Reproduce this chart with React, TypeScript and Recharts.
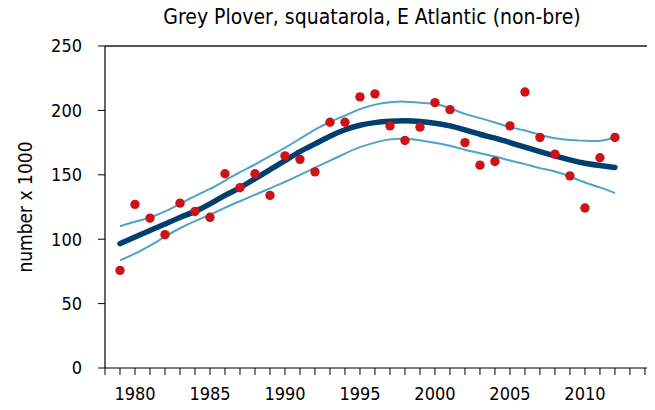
import React from 'react';
import { ComposedChart, Line, XAxis, YAxis, ReferenceLine, Label } from 'recharts';

const years = [1979, 1980, 1981, 1982, 1983, 1984, 1985, 1986, 1987, 1988, 1989, 1990, 1991, 1992, 1993, 1994, 1995, 1996, 1997, 1998, 1999, 2000, 2001, 2002, 2003, 2004, 2005, 2006, 2007, 2008, 2009, 2010, 2011, 2012];

const counts = [75.8, 127, 116.4, 103.5, 128, 121.5, 117, 150.8, 140, 150.8, 134, 164.7, 162, 152.3, 190.8, 190.8, 210.5, 212.8, 188, 176.6, 187, 206, 200.6, 175, 157.5, 160.3, 188, 214.3, 179, 166, 149.2, 124.2, 163.2, 179];

const trend = [96.5, 101.7, 106.8, 111.8, 116.9, 121.6, 127.5, 134, 140, 147, 154, 161, 168, 174, 180, 185, 188.5, 190.5, 191.5, 191.9, 191.3, 190, 188, 184.9, 181.5, 178.4, 175, 171.5, 168, 164.7, 161.6, 159, 157.2, 155.7];

const upper = [110, 113.5, 116.9, 121.6, 127.5, 133.5, 139, 145.5, 152, 158, 164.5, 171, 178, 185, 191, 196, 201, 204.5, 206.3, 206.8, 206, 205, 201.7, 197.3, 194, 190.6, 187, 184.4, 181, 178.4, 177, 176.4, 176.4, 179];

const lower = [83.6, 88.8, 95, 102, 108.5, 114, 119, 124.5, 129.5, 134.5, 139.5, 144.5, 150, 155.5, 161, 166.5, 171.5, 175, 177.5, 178, 176.8, 174.8, 172.5, 169.4, 166.8, 164.2, 161.1, 158.3, 155.2, 152.6, 148.7, 144, 140.2, 135.8];

const xTicks = Array.from({ length: 37 }, (_, i) => 1978 + i);
const yTicks = [0, 50, 100, 150, 200, 250];

const titleText = 'Grey Plover, squatarola, E Atlantic (non-bre)';
const yLabelText = 'number x 1000';

const data = years.map((y, i) => ({
  year: y,
  count: counts[i],
  trend: trend[i],
  upper: upper[i],
  lower: lower[i],
}));

const FONT = '"DejaVu Sans Condensed", "DejaVu Sans", sans-serif';

export default function App() {
  return (
    <div style={{ position: 'relative', width: 655, height: 410, margin: -8, fontFamily: FONT }}>
      <div
        style={{
          position: 'absolute',
          left: 89,
          width: 566,
          top: 7,
          fontSize: 21,
          lineHeight: '21px',
          textAlign: 'center',
          whiteSpace: 'nowrap',
          color: '#000',
        }}
      >
        {titleText}
      </div>
      <ComposedChart
        width={655}
        height={410}
        data={data}
        margin={{ top: 46, right: 0, bottom: 0, left: 0 }}
        style={{ fontFamily: FONT }}
      >
        <XAxis
          dataKey="year"
          type="number"
          domain={[1978, 2014.67]}
          allowDataOverflow
          ticks={xTicks}
          interval={0}
          tickFormatter={(v: number) => (v % 5 === 0 ? String(v) : '')}
          tick={{ fontSize: 18, fill: '#000', fontFamily: FONT }}
          tickLine={{ stroke: '#000', strokeWidth: 1 }}
          axisLine={{ stroke: '#000', strokeWidth: 1.2 }}
          tickSize={7}
          tickMargin={12}
          height={42}
        />
        <YAxis
          type="number"
          domain={[0, 250]}
          ticks={yTicks}
          interval={0}
          tick={{ fontSize: 18, fill: '#000', fontFamily: FONT }}
          tickLine={{ stroke: '#000', strokeWidth: 1 }}
          axisLine={{ stroke: '#000', strokeWidth: 1.2 }}
          tickSize={7}
          tickMargin={16}
          width={105}
        >
          <Label
            content={() => (
              <text
                x={25}
                y={207}
                transform="rotate(-90 25 207)"
                textAnchor="middle"
                dominantBaseline="central"
                fontSize={19}
                fontFamily={FONT}
                fill="#000"
              >
                {yLabelText}
              </text>
            )}
          />
        </YAxis>
        <ReferenceLine y={250} stroke="#555" strokeWidth={2} ifOverflow="visible" />
        <Line
          dataKey="upper"
          type="natural"
          stroke="#4da3c9"
          strokeWidth={2}
          dot={false}
          activeDot={false}
          isAnimationActive={false}
        />
        <Line
          dataKey="lower"
          type="natural"
          stroke="#4da3c9"
          strokeWidth={2}
          dot={false}
          activeDot={false}
          isAnimationActive={false}
        />
        <Line
          dataKey="trend"
          type="natural"
          stroke="#003f6f"
          strokeWidth={5.5}
          strokeLinecap="round"
          dot={false}
          activeDot={false}
          isAnimationActive={false}
        />
        <Line
          dataKey="count"
          stroke="none"
          strokeWidth={0}
          dot={{ r: 4.7, fill: '#cc1418', stroke: 'none' }}
          activeDot={false}
          isAnimationActive={false}
        />
      </ComposedChart>
    </div>
  );
}
